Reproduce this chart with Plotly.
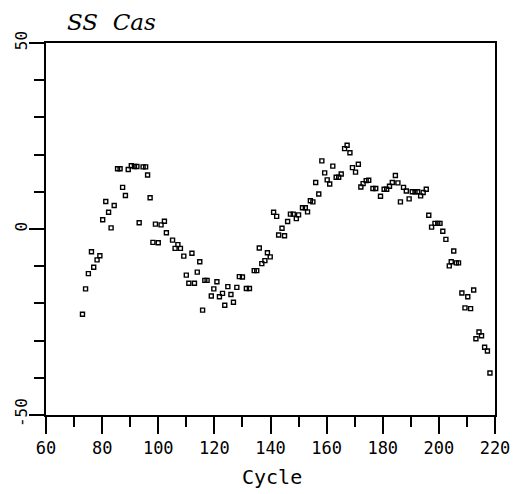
import plotly.graph_objects as go

cycle = [73.0, 74.1, 75.1, 76.2, 77.0, 78.2, 79.2, 80.2, 81.3, 82.3, 83.2, 84.3, 85.5, 86.4,
         87.3, 88.3, 89.3, 90.4, 91.5, 92.4, 93.2, 94.6, 95.5, 96.2, 97.1, 98.1, 99.0, 100.0,
         101.0, 102.2, 102.9, 105.1, 106.0, 107.0, 107.9, 109.1, 110.0, 110.9, 112.0, 112.9,
         113.9, 114.8, 115.8, 116.6, 117.4, 118.9, 119.8, 120.9, 121.8, 122.9, 123.7, 124.8,
         125.9, 126.8, 128.0, 128.9, 130.0, 131.4, 132.5, 134.2, 135.1, 136.0, 136.9, 138.0,
         138.9, 139.9, 141.1, 142.2, 142.9, 144.1, 145.0, 146.1, 147.1, 148.1, 149.2, 150.0,
         151.4, 152.4, 153.2, 154.2, 155.1, 156.1, 157.2, 158.3, 159.3, 160.2, 161.1, 162.2,
         163.4, 164.3, 165.2, 166.4, 167.3, 168.3, 169.2, 170.3, 171.3, 172.2, 173.0, 174.1,
         175.0, 176.5, 177.5, 179.2, 180.5, 181.4, 182.4, 183.4, 184.5, 185.4, 186.3, 187.4,
         188.4, 189.4, 190.5, 191.5, 192.4, 193.5, 194.4, 195.5, 196.4, 197.4, 198.6, 199.6,
         200.4, 201.4, 202.5, 203.7, 204.4, 205.3, 206.2, 207.0, 208.2, 209.3, 210.3, 211.3,
         212.4, 213.2, 214.3, 215.2, 216.3, 217.3, 218.2]
value = [-22.9, -16.1, -12.0, -6.1, -10.3, -8.3, -7.2, 2.5, 7.4, 4.5, 0.3, 6.3, 16.2, 16.2,
         11.2, 9.0, 16.0, 17.0, 16.8, 16.8, 1.7, 16.7, 16.7, 14.5, 8.4, -3.6, 1.3, -3.7,
         1.1, 2.1, -1.0, -3.0, -5.2, -4.2, -5.2, -7.3, -12.4, -14.6, -6.5, -14.6,
         -11.6, -8.8, -21.8, -13.8, -13.8, -18.0, -16.1, -14.2, -18.2, -17.3, -20.5, -15.5,
         -17.6, -19.7, -15.7, -12.8, -12.9, -16.0, -16.0, -11.2, -11.2, -5.1, -9.3, -8.5,
         -6.4, -7.5, 4.5, 3.4, -1.6, 0.2, -1.8, 2.0, 4.0, 4.0, 2.8, 3.8,
         5.7, 5.7, 4.6, 7.6, 7.3, 12.5, 9.4, 18.3, 15.1, 13.2, 12.1, 16.9,
         13.9, 13.9, 14.8, 21.6, 22.5, 20.5, 16.5, 15.3, 17.4, 11.3, 12.2, 13.0,
         13.1, 10.9, 10.9, 8.8, 10.7, 10.7, 11.5, 12.5, 14.4, 12.4, 7.3, 11.2,
         10.2, 8.1, 10.0, 10.0, 10.0, 8.9, 9.8, 10.7, 3.7, 0.5, 1.5, 1.5,
         1.5, -0.6, -2.8, -9.9, -8.8, -5.9, -9.1, -9.1, -17.2, -21.2, -18.2, -21.4,
         -16.4, -29.5, -27.7, -28.7, -31.8, -32.8, -38.7]

x_ticks = [60, 80, 100, 120, 140, 160, 180, 200, 220]
y_ticks = [-50, 0, 50]
title_text = "SS&nbsp;&nbsp;Cas"
x_label = "Cycle"

mono = "DejaVu Sans Mono"

# page body has an 8px default margin, so the figure is sized to fit the rest
W, H = 513, 486
L, R, T, B = 38, 26, 35, 79
pw, ph = W - L - R, H - T - B

fig = go.Figure()
fig.add_trace(go.Scatter(
    x=cycle, y=value, mode="markers",
    marker=dict(symbol="square-open", size=4, color="black", line=dict(width=1.4, color="black")),
    showlegend=False, hoverinfo="skip"))

fig.update_layout(
    width=W, height=H,
    margin=dict(l=L, r=R, t=T, b=B, autoexpand=False),
    paper_bgcolor="white", plot_bgcolor="white",
    xaxis=dict(range=[60, 220], tickvals=x_ticks, ticktext=[str(v) for v in x_ticks],
               automargin=False,
               showgrid=False, zeroline=False, showline=True, linecolor="black", linewidth=2,
               mirror=True, ticks="outside", ticklen=17, tickwidth=2, tickcolor="black",
               tickfont=dict(family=mono, size=17, color="black"),
               minor=dict(dtick=10, tick0=60, ticks="outside", ticklen=10, tickwidth=2,
                          tickcolor="black", showgrid=False)),
    yaxis=dict(range=[-50, 50], tickvals=y_ticks, ticktext=[str(v) for v in y_ticks],
               automargin=False, ticklabelstandoff=-4,
               showgrid=False, zeroline=False, showline=True, linecolor="black", linewidth=2,
               mirror=True, ticks="outside", ticklen=15, tickwidth=2, tickcolor="black",
               tickangle=-90, tickfont=dict(family=mono, size=16, color="black"),
               minor=dict(dtick=10, tick0=0, ticks="outside", ticklen=10, tickwidth=2,
                          tickcolor="black", showgrid=False)),
    annotations=[
        dict(text=title_text, xref="paper", yref="paper", x=(57 - L) / pw, y=(H - B - 14) / ph,
             xanchor="left", yanchor="middle", showarrow=False,
             font=dict(family="DejaVu Serif", size=23, color="black", style="italic")),
        dict(text=x_label, xref="paper", yref="paper", x=(264 - L) / pw, y=(H - B - 469) / ph,
             xanchor="center", yanchor="middle", showarrow=False,
             font=dict(family=mono, size=20, color="black")),
    ],
)

fig.write_html("out.html")
